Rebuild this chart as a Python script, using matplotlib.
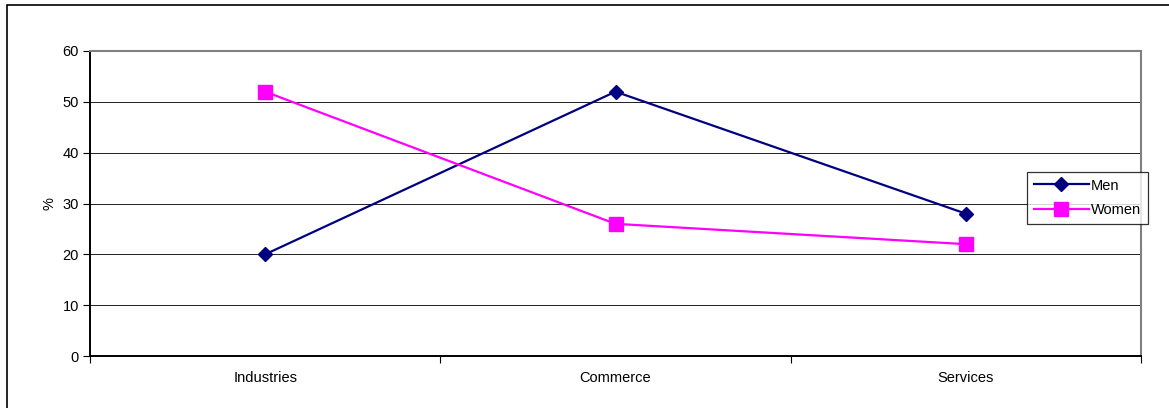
import matplotlib.pyplot as plt
from matplotlib.patches import Rectangle

categories = ['Industries', 'Commerce', 'Services']
men = [20, 52, 28]
women = [52, 26, 22]

plt.rcParams['font.family'] = ['Liberation Sans', 'DejaVu Sans']

W, H = 1169, 408
fig = plt.figure(figsize=(W / 100, H / 100), dpi=100)

# outer chart border (runs off the right and bottom edges)
fig.patches.append(Rectangle((7 / W, -0.05), 1.1, 1 - 5 / H + 0.05,
                             transform=fig.transFigure, fill=False,
                             edgecolor='black', linewidth=1.2))

left, right, top, bottom = 90, 1141, 51, 356
ax = fig.add_axes([left / W, 1 - bottom / H, (right - left) / W, (bottom - top) / H])

x = range(len(categories))
ax.plot(x, men, color='#000080', marker='D', markersize=7, linewidth=1.6, label='Men')
ax.plot(x, women, color='#FF00FF', marker='s', markersize=9.5, linewidth=1.6, label='Women')

fs = 10.5
ax.set_xlim(-0.5, 2.5)
ax.set_ylim(0, 60)
ax.set_yticks(range(0, 61, 10))
ax.set_xticks([-0.5, 0.5, 1.5, 2.5])
ax.set_xticklabels([])
ax.set_xticks(list(x), minor=True)
ax.set_xticklabels(categories, minor=True)
ax.tick_params(axis='x', which='minor', length=0, pad=11, labelsize=fs)
ax.tick_params(axis='x', which='major', length=5, direction='out', color='black')
ax.tick_params(axis='y', length=5, direction='out', labelsize=fs, pad=3)

ax.grid(axis='y', color='#202020', linewidth=0.7)
ax.set_axisbelow(True)
for s in ['top', 'right']:
    ax.spines[s].set_color('#808080')
    ax.spines[s].set_linewidth(1.5)
ax.spines['left'].set_linewidth(1.4)
ax.spines['bottom'].set_linewidth(1.4)
ax.set_ylabel('%', fontsize=fs, labelpad=4)

leg = ax.legend(loc='upper left', bbox_to_anchor=((1027 - left) / (right - left), 1 - (172 - top) / (bottom - top)),
                frameon=True, fancybox=False, edgecolor='black', fontsize=fs,
                borderaxespad=0, handlelength=3.8, labelspacing=0.75, borderpad=0.45,
                handletextpad=0.15)
leg.get_frame().set_linewidth(0.9)

fig.savefig('out.png', dpi=100)
